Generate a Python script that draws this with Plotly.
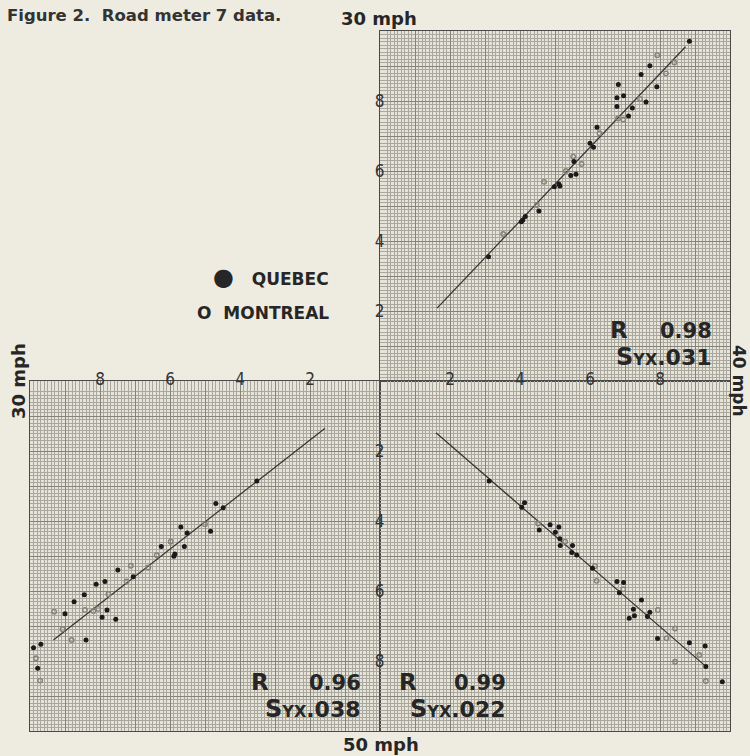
import plotly.graph_objects as go

# ---------------- data ----------------
# top-right quadrant (30 mph vs 40 mph)
tr_quebec_x = [3.10, 4.04, 4.08, 4.15, 4.54, 4.98, 5.11, 5.14, 5.45, 5.54, 5.60, 6.00, 6.10, 6.20,
               6.77, 6.77, 6.81, 6.96, 7.10, 7.21, 7.46, 7.60, 7.71, 7.91, 8.84]
tr_quebec_y = [3.55, 4.55, 4.60, 4.70, 4.86, 5.55, 5.63, 5.57, 5.87, 6.27, 5.91, 6.79, 6.68, 7.25,
               8.09, 7.84, 8.47, 8.15, 7.57, 7.80, 8.76, 7.97, 9.01, 8.41, 9.71]
tr_montreal_x = [3.52, 4.48, 4.69, 5.31, 5.52, 5.76, 6.27, 6.80, 6.95, 7.43, 7.92, 8.17, 8.41]
tr_montreal_y = [4.20, 5.03, 5.69, 6.00, 6.41, 6.20, 7.08, 7.50, 7.47, 8.06, 9.31, 8.79, 9.10]
tr_line_x = [1.63, 8.73]
tr_line_y = [2.08, 9.55]

# bottom-left quadrant (30 mph vs 50 mph)
bl_quebec_x = [3.52, 4.69, 4.48, 5.69, 5.51, 4.84, 6.25, 5.59, 5.86, 5.89, 7.49, 7.05, 8.11, 7.86,
               8.45, 8.74, 9.00, 7.80, 7.94, 7.55, 8.40, 9.90, 9.69, 9.78]
bl_quebec_y = [2.86, 3.50, 3.62, 4.17, 4.34, 4.29, 4.73, 4.73, 4.94, 5.01, 5.40, 5.59, 5.81, 5.73,
               6.11, 6.31, 6.65, 6.54, 6.75, 6.81, 7.40, 7.62, 7.52, 8.21]
bl_montreal_x = [5.00, 5.98, 6.38, 6.62, 7.12, 7.24, 7.76, 8.05, 8.43, 8.19, 9.31, 9.07, 8.81, 9.83, 9.71]
bl_montreal_y = [4.09, 4.59, 4.98, 5.33, 5.28, 5.73, 6.09, 6.51, 6.54, 6.57, 6.59, 7.09, 7.40, 7.92, 8.56]
bl_line_x = [1.57, 9.33]
bl_line_y = [1.35, 7.40]

# bottom-right quadrant (40 mph vs 50 mph)
br_quebec_x = [3.12, 4.13, 4.05, 4.86, 5.11, 4.55, 5.01, 5.14, 5.15, 5.50, 5.48, 5.62, 6.07, 6.77,
               6.96, 6.84, 7.47, 7.24, 7.12, 7.27, 7.71, 7.64, 7.93, 8.84, 9.29, 9.31, 9.78]
br_quebec_y = [2.86, 3.48, 3.61, 4.11, 4.17, 4.26, 4.32, 4.51, 4.70, 4.70, 4.90, 4.97, 5.35, 5.73,
               5.76, 6.05, 6.26, 6.52, 6.78, 6.71, 6.61, 6.73, 7.36, 7.48, 7.57, 8.16, 8.59]
br_montreal_x = [4.52, 5.29, 6.14, 6.19, 6.95, 7.94, 8.43, 8.19, 8.43, 9.12, 9.31]
br_montreal_y = [4.07, 4.59, 5.29, 5.71, 5.95, 6.54, 7.07, 7.35, 8.02, 7.83, 8.57]
br_line_x = [1.60, 9.35]
br_line_y = [1.48, 8.19]

tick_vals = [0, 1, 2, 3, 4, 5, 6, 7, 8, 9, 10]
tick_text = ["", "", "2", "", "4", "", "6", "", "8", "", ""]

stats = [("0.98", ".031"), ("0.96", ".038"), ("0.99", ".022")]

# ---------------- figure ----------------
W, H = 750, 756
BG = "#eeebe1"
INK = "#262626"

def px(x):
    return x / W

def py(y):
    return 1 - y / H

fig = go.Figure()

quad = [("x", "y", tr_quebec_x, tr_quebec_y, tr_montreal_x, tr_montreal_y, tr_line_x, tr_line_y),
        ("x2", "y2", bl_quebec_x, bl_quebec_y, bl_montreal_x, bl_montreal_y, bl_line_x, bl_line_y),
        ("x3", "y3", br_quebec_x, br_quebec_y, br_montreal_x, br_montreal_y, br_line_x, br_line_y)]

for xa, ya, qx, qy, mx, my, lx, ly in quad:
    fig.add_trace(go.Scatter(x=lx, y=ly, mode="lines", xaxis=xa, yaxis=ya,
                             line=dict(color="#333333", width=1.2), showlegend=False, hoverinfo="skip"))
    fig.add_trace(go.Scatter(x=mx, y=my, mode="markers", name="MONTREAL", xaxis=xa, yaxis=ya,
                             marker=dict(symbol="circle-open", size=4.5, color="#85827b",
                                         line=dict(width=1.4, color="#85827b")),
                             showlegend=False))
    fig.add_trace(go.Scatter(x=qx, y=qy, mode="markers", name="QUEBEC", xaxis=xa, yaxis=ya,
                             marker=dict(symbol="circle", size=5, color="#1a1a1a"),
                             showlegend=False))

cx, cy, S = 380, 381, 350
xr = [px(cx), px(cx + S)]
xl = [px(cx - S), px(cx)]
yt = [py(cy), py(cy - S)]
yb = [py(cy + S), py(cy)]

grid_minor = dict(tickmode="linear", tick0=0, dtick=0.1, showgrid=True,
                  gridcolor="#aaa79e", gridwidth=1, ticks="")
tickfont = dict(family="Liberation Sans Narrow, DejaVu Sans Condensed, Liberation Sans",
                size=17, color="#333333")

def axis(domain, rng, anchor, side, show_labels, standoff=0):
    d = dict(domain=domain, range=rng, anchor=anchor, side=side,
             tickmode="array", tickvals=tick_vals, ticktext=tick_text,
             showgrid=True, gridcolor="#85827a", gridwidth=1,
             minor=grid_minor, zeroline=False,
             showline=True, linecolor="#4a4a4a", linewidth=1.3, mirror=True,
             ticks="", showticklabels=show_labels, tickfont=tickfont,
             fixedrange=True)
    if show_labels:
        d["ticklabelposition"] = "inside"
        d["ticklabelstandoff"] = standoff
    return d

fig.update_layout(
    width=W, height=H,
    margin=dict(l=0, r=0, t=0, b=0),
    paper_bgcolor=BG, plot_bgcolor="#e6e3d8",
    xaxis=axis(xr, [0, 10], "y", "bottom", False),
    yaxis=axis(yt, [0, 10], "x", "left", True, -5),
    xaxis2=axis(xl, [10, 0], "y2", "top", True, -8),
    yaxis2=axis(yb, [10, 0], "x2", "left", False),
    xaxis3=axis(xr, [0, 10], "y3", "top", True, -8),
    yaxis3=axis(yb, [10, 0], "x3", "left", True, -5),
    font=dict(family="DejaVu Sans", color=INK),
)

ann = []
def add(text, x, y, xanchor="center", size=16, angle=0, family="DejaVu Sans", bold=True,
        color=INK, yanchor="middle"):
    ann.append(dict(text=f"<b>{text}</b>" if bold else text, x=px(x), y=py(y), xref="paper", yref="paper",
                    xanchor=xanchor, yanchor=yanchor, showarrow=False, textangle=angle, borderpad=0,
                    font=dict(family=family, size=size, color=color)))

# title
add("Figure 2.\u00a0\u00a0Road meter 7 data.", 6, 15, "left", 16.5, color="#333333")
# axis speed labels
add("30 mph", 379, 19, "center", 18)
add("40 mph", 739, 381, "center", 17, angle=90)
add("30 mph", 18, 381, "center", 18, angle=-90)
add("50 mph", 381, 744, "center", 18)
# legend
add('<span style="font-size:24px">●</span>\u00a0\u00a0\u00a0QUEBEC', 330, 277, "right", 17)
add('O\u00a0\u00a0MONTREAL', 330, 313, "right", 17)

# statistics boxes (R line sits above the boundary, S line below it)
for (r, s), (lx0, rx0, yy) in zip(stats, [(609, 713, 343), (250, 362, 695), (398, 507, 695)]):
    add("R", lx0, yy + 1, "left", 23, yanchor="bottom")
    add(r, rx0, yy + 1, "right", 21, yanchor="bottom")
    add(f'<span style="font-size:24px">S</span><span style="font-size:16px">YX</span>{s}',
        rx0, yy - 1, "right", 22, yanchor="top")

fig.update_layout(annotations=ann)

fig.write_html(
    "out.html",
    config={"displayModeBar": False},
    post_script="document.body.style.margin='0px';document.body.style.background='" + BG + "';",
)
